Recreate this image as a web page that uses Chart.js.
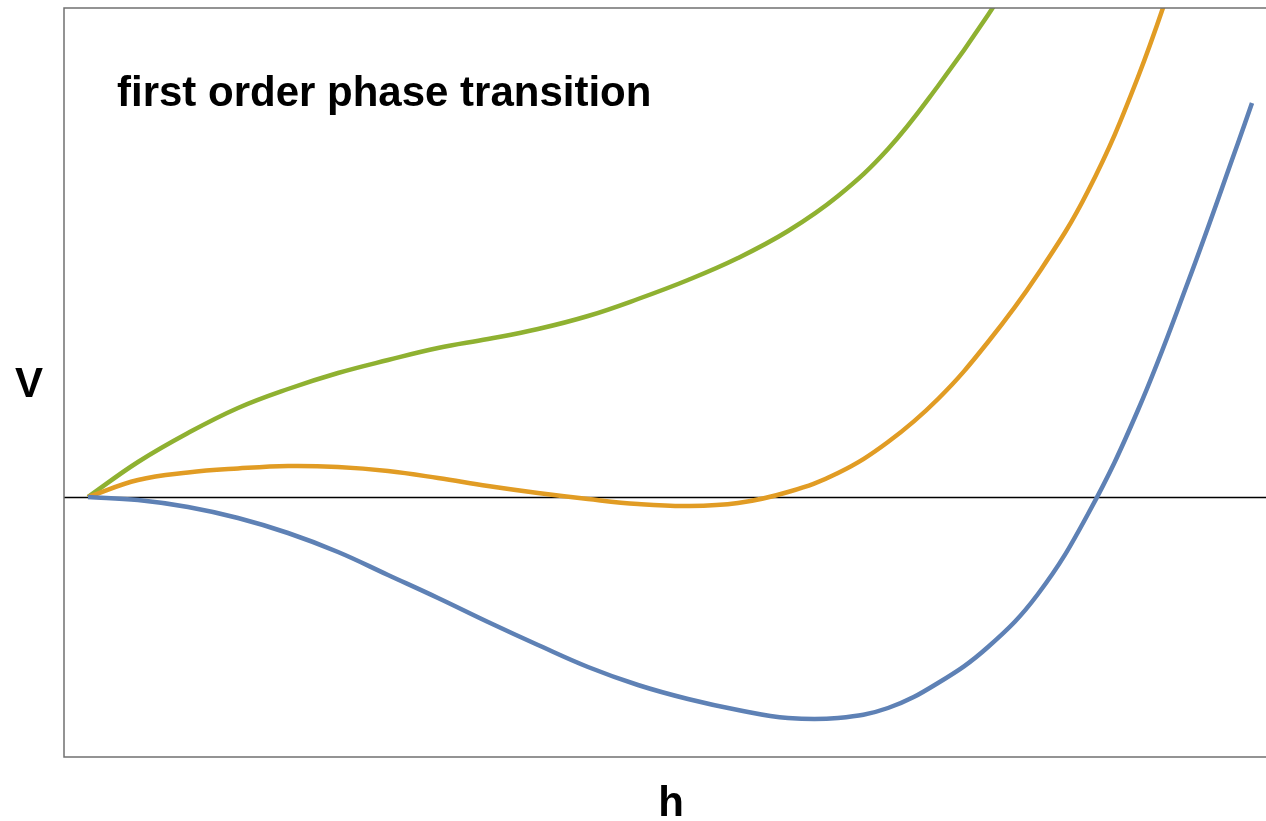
<!DOCTYPE html>
<html>
<head>
<meta charset="utf-8">
<script src="https://cdn.jsdelivr.net/npm/chart.js@4.4.0/dist/chart.umd.min.js"></script>
<style>
  body { margin: 0; background: #fff; }
</style>
</head>
<body>
<canvas id="c" width="1266" height="821"></canvas>
<script>
// h sample positions (arbitrary units), shared by the three curves
const hValues = [0, 0.5, 1, 1.5, 2, 2.5, 3, 3.5, 4, 4.5, 5, 5.5, 6, 6.5, 7, 7.5, 8, 8.5, 9, 9.5, 10, 10.5, 11, 11.5, 11.64];

// V(h); null = curve already out of the frame
const greenV = [0, 0.35, 0.64, 0.89, 1.08, 1.24, 1.37, 1.49, 1.58, 1.68, 1.81, 1.98, 2.17, 2.39, 2.66, 3.01, 3.48, 4.11, 4.82, 5.62,
  null, null, null, null, null];
const orangeV = [0, 0.17, 0.245, 0.285, 0.31, 0.30, 0.26, 0.19, 0.11, 0.04, -0.02, -0.07, -0.09, -0.06, 0.05, 0.24, 0.55, 0.98, 1.55, 2.23,
  3.06, 4.20, 5.63, null, null];
const blueV = [0, -0.03, -0.10, -0.21, -0.36, -0.55, -0.78, -1.01, -1.25, -1.48, -1.70, -1.88, -2.02, -2.13, -2.21, -2.21, -2.11, -1.86,
  -1.50, -0.97, -0.17, 0.87, 2.15, 3.54, 3.94];

const title = 'first order phase transition';
const xLabel = 'h';
const yLabel = 'V';

function pts(vals) {
  return hValues.map((h, i) => ({ x: h, y: vals[i] }));
}

function curve(vals, color) {
  return {
    data: pts(vals),
    borderColor: color,
    borderWidth: 4.5,
    pointRadius: 0,
    fill: false,
    tension: 0.4,
    spanGaps: false,
    clip: 0
  };
}

const frame = {
  id: 'frame',
  beforeDatasetsDraw(chart) {
    const { ctx, chartArea: a, scales } = chart;
    const y0 = Math.round(scales.y.getPixelForValue(0)) + 0.5;
    ctx.save();
    ctx.strokeStyle = '#000';
    ctx.lineWidth = 1.5;
    ctx.beginPath();
    ctx.moveTo(a.left, y0);
    ctx.lineTo(a.right, y0);
    ctx.stroke();
    ctx.restore();
  },
  afterDraw(chart) {
    const { ctx, chartArea: a } = chart;
    ctx.save();
    ctx.strokeStyle = '#707070';
    ctx.lineWidth = 1.5;
    ctx.beginPath();
    ctx.moveTo(a.right, a.top);
    ctx.lineTo(a.left, a.top);
    ctx.lineTo(a.left, a.bottom);
    ctx.lineTo(a.right, a.bottom);
    ctx.stroke();

    ctx.fillStyle = '#000';
    ctx.font = 'bold 42px "Liberation Sans", Arial, sans-serif';
    ctx.textBaseline = 'alphabetic';
    ctx.textAlign = 'left';
    ctx.fillText(title, 117, 106);
    ctx.textAlign = 'center';
    ctx.fillText(yLabel, 29, 397);
    ctx.fillText(xLabel, 671, 816);
    ctx.restore();
  }
};

new Chart(document.getElementById('c'), {
  type: 'line',
  data: {
    datasets: [
      curve(blueV, '#5e81b5'),
      curve(orangeV, '#e19c24'),
      curve(greenV, '#8fb131')
    ]
  },
  options: {
    responsive: false,
    animation: false,
    layout: { padding: { left: 64, top: 8, right: 0, bottom: 64 } },
    plugins: { legend: { display: false }, tooltip: { enabled: false } },
    scales: {
      x: { type: 'linear', min: -0.24, max: 11.78, display: false },
      y: { type: 'linear', min: -2.60, max: 4.89, display: false }
    }
  },
  plugins: [frame]
});
</script>
</body>
</html>
